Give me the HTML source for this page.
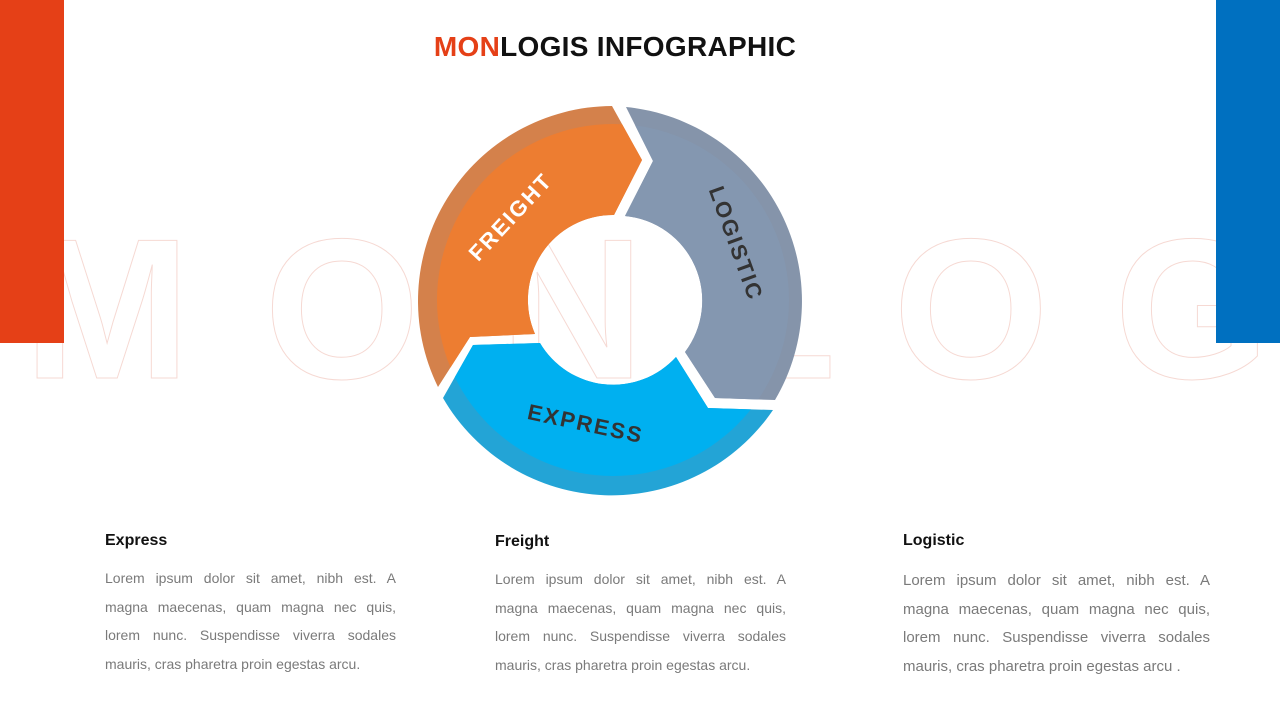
<!DOCTYPE html>
<html><head><meta charset="utf-8"><style>
body{margin:0;width:1280px;height:720px;overflow:hidden;background:#fff;position:relative;font-family:"Liberation Sans",sans-serif}
.bar{position:absolute;top:0;height:343px;width:64px}
h1{position:absolute;top:31px;left:0;width:1230px;text-align:center;margin:0;font-size:28px;font-weight:bold;color:#111;letter-spacing:0.3px}
.col{position:absolute;width:291px}
.col h3{margin:0 0 14px;font-size:16px;font-weight:bold;color:#111}
.col div{font-size:14px;line-height:28.5px;height:28.5px;color:#7a7a7a;text-align:justify;text-align-last:justify;white-space:nowrap}
.col div.l{text-align-last:left}
.col.w div{font-size:15px;line-height:28.7px;height:28.7px}
svg{position:absolute;left:0;top:0}
</style></head><body>
<svg width="1280" height="720">
<g font-family="Liberation Sans" font-weight="bold" font-size="200" fill="#fff" stroke="#f6d9d3" stroke-width="1" text-anchor="middle">
<text x="107" y="378">M</text><text x="342" y="378">O</text><text x="572" y="378">N</text><text x="775" y="378">L</text><text x="971" y="378">O</text><text x="1192" y="378">G</text>
</g>
<defs><clipPath id="ic"><circle cx="613" cy="300" r="176"/></clipPath></defs>
<g>
<path d="M438,387 A195,195 0 0 1 612,106 L642,160 L614,215 A85,85 0 0 0 535,334 L470,337 Z" fill="#d4814b"/>
<path d="M438,387 A195,195 0 0 1 612,106 L642,160 L614,215 A85,85 0 0 0 535,334 L470,337 Z" fill="#ed7d31" clip-path="url(#ic)"/>
<path d="M626,107 A195,195 0 0 1 775,400 L715,398 L685,352 A85,85 0 0 0 625,216 L653,161 Z" fill="#8594aa"/>
<path d="M626,107 A195,195 0 0 1 775,400 L715,398 L685,352 A85,85 0 0 0 625,216 L653,161 Z" fill="#8497b0" clip-path="url(#ic)"/>
<path d="M443,398 L473,345 L540,343 A85,85 0 0 0 676,357 L708,408 L773,410 A195,195 0 0 1 443,398 Z" fill="#23a4d6"/>
<path d="M443,398 L473,345 L540,343 A85,85 0 0 0 676,357 L708,408 L773,410 A195,195 0 0 1 443,398 Z" fill="#00b0f0" clip-path="url(#ic)"/>
</g>
<g font-family="Liberation Sans" font-weight="bold" font-size="22" text-anchor="middle" letter-spacing="2">
<text x="0" y="0" fill="#fff" transform="translate(516,222) rotate(-47)">FREIGHT</text>
<text x="0" y="0" fill="#333" transform="translate(729,246) rotate(70)">LOGISTIC</text>
<text x="0" y="0" fill="#333" transform="translate(584,431) rotate(12)">EXPRESS</text>
</g>
</svg>
<div class="bar" style="left:0;background:#e54017"></div>
<div class="bar" style="left:1216px;background:#0070c0"></div>
<h1><span style="color:#e54017">MON</span>LOGIS INFOGRAPHIC</h1>
<div class="col" style="left:105px;top:532px"><h3>Express</h3>
<div>Lorem ipsum dolor sit amet, nibh est. A</div><div>magna maecenas, quam magna nec quis,</div><div>lorem nunc. Suspendisse viverra sodales</div><div class="l">mauris, cras pharetra proin egestas arcu.</div></div>
<div class="col" style="left:495px;top:533px"><h3>Freight</h3>
<div>Lorem ipsum dolor sit amet, nibh est. A</div><div>magna maecenas, quam magna nec quis,</div><div>lorem nunc. Suspendisse viverra sodales</div><div class="l">mauris, cras pharetra proin egestas arcu.</div></div>
<div class="col w" style="left:903px;top:532px;width:307px"><h3 style="margin-bottom:17px">Logistic</h3>
<div>Lorem ipsum dolor sit amet, nibh est. A</div><div>magna maecenas, quam magna nec quis,</div><div>lorem nunc. Suspendisse viverra sodales</div><div class="l">mauris, cras pharetra proin egestas arcu .</div></div>
</body></html>
